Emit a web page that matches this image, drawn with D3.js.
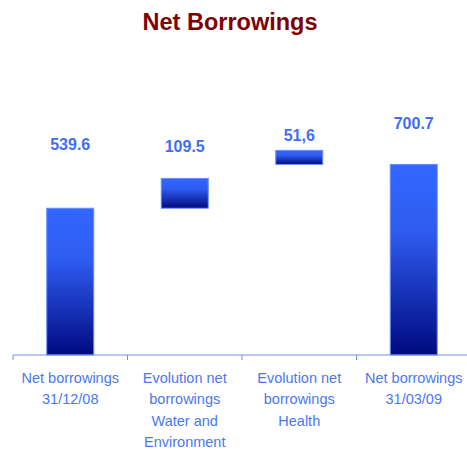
<!DOCTYPE html>
<html lang="en">
<head>
<meta charset="utf-8">
<title>Net Borrowings</title>
<script src="https://cdn.jsdelivr.net/npm/d3@7"></script>
<style>
  body { margin: 0; background: #fff; }
  svg { display: block; font-family: "Liberation Sans", Arial, sans-serif; }
</style>
</head>
<body>
<script>
// data
var categories = ["Net borrowings 31/12/08",
                  "Evolution net borrowings Water and Environment",
                  "Evolution net borrowings Health",
                  "Net borrowings 31/03/09"];
var categoryLines = [["Net borrowings", "31/12/08"],
                     ["Evolution net", "borrowings", "Water and", "Environment"],
                     ["Evolution net", "borrowings", "Health"],
                     ["Net borrowings", "31/03/09"]];
var bases  = [0, 539.6, 700.7, 0];
var values = [539.6, 109.5, 51.6, 700.7];
var valueLabels = ["539.6", "109.5", "51,6", "700.7"];

// layout
var width = 467, height = 450;
var labelBaseline = [150, 152, 141, 129];

var svg = d3.select("body").append("svg")
    .attr("width", width)
    .attr("height", height);

var defs = svg.append("defs");
var grad = defs.append("linearGradient")
    .attr("id", "barGrad")
    .attr("x1", 0).attr("y1", 0).attr("x2", 0).attr("y2", 1);
grad.append("stop").attr("offset", "0%").attr("stop-color", "#3366ff");
grad.append("stop").attr("offset", "35%").attr("stop-color", "#2f5cf0");
grad.append("stop").attr("offset", "100%").attr("stop-color", "#000a80");

var x = d3.scaleBand()
    .domain(categories)
    .range([13, 471])
    .paddingInner(0)
    .paddingOuter(0);

var y = d3.scaleLinear()
    .domain([0, 800])
    .range([355, 137.4]);

var barW = 47;

// title
svg.append("text")
    .attr("x", 230)
    .attr("y", 30)
    .attr("text-anchor", "middle")
    .attr("fill", "#800000")
    .attr("font-size", "23.5px")
    .attr("font-weight", "bold")
    .text("Net Borrowings");

// bars
svg.selectAll("rect.bar")
    .data(categories)
    .enter().append("rect")
    .attr("class", "bar")
    .attr("x", function(d) { return x(d) + x.bandwidth() / 2 - barW / 2; })
    .attr("y", function(d, i) { return y(bases[i] + values[i]); })
    .attr("width", barW)
    .attr("height", function(d, i) { return y(bases[i]) - y(bases[i] + values[i]); })
    .attr("fill", "url(#barGrad)")
    .attr("stroke", "#6a8cff")
    .attr("stroke-width", 1);

// value labels
svg.selectAll("text.val")
    .data(categories)
    .enter().append("text")
    .attr("class", "val")
    .attr("x", function(d) { return x(d) + x.bandwidth() / 2; })
    .attr("y", function(d, i) { return labelBaseline[i]; })
    .attr("text-anchor", "middle")
    .attr("fill", "#3f6ef5")
    .attr("font-size", "16px")
    .attr("font-weight", "bold")
    .text(function(d, i) { return valueLabels[i]; });

// x axis
var axis = svg.append("g")
    .attr("transform", "translate(0,355)")
    .call(d3.axisBottom(x).tickSize(5).tickFormat(""));
axis.select(".domain").attr("d", "M13,0H467").attr("stroke", "#6f8ff0");
axis.selectAll(".tick line")
    .attr("stroke", "#6f8ff0")
    .attr("transform", "translate(" + (-x.bandwidth() / 2) + ",0)");

// category labels
var cat = svg.selectAll("text.cat")
    .data(categories)
    .enter().append("text")
    .attr("class", "cat")
    .attr("x", function(d) { return x(d) + x.bandwidth() / 2; })
    .attr("y", 383)
    .attr("text-anchor", "middle")
    .attr("fill", "#4a78f2")
    .attr("font-size", "14.5px");

cat.each(function(d, i) {
  var t = d3.select(this);
  categoryLines[i].forEach(function(line, j) {
    t.append("tspan")
      .attr("x", x(d) + x.bandwidth() / 2)
      .attr("y", 383 + j * 21.3)
      .text(line);
  });
});
</script>
</body>
</html>
